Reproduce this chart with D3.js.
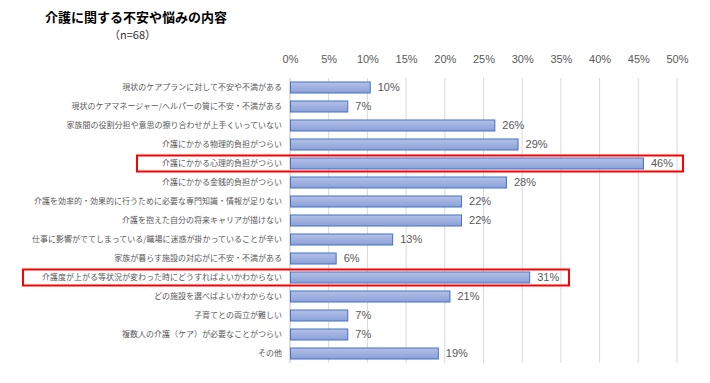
<!DOCTYPE html>
<html>
  <head>
    <meta charset="utf-8" />
    <title>介護に関する不安や悩みの内容</title>
    <script src="https://d3js.org/d3.v7.min.js"></script>
    <style>
      body { margin: 0; background: #fff; }
      svg { font-family: "Noto Sans CJK JP", "Noto Sans", sans-serif; }
    </style>
  </head>
  <body>
    <div id="chart"></div>
    <script>
      // data (n=68)
      var categories = [
        "現状のケアプランに対して不安や不満がある",
        "現状のケアマネージャー/ヘルパーの質に不安・不満がある",
        "家族間の役割分担や意思の擦り合わせが上手くいっていない",
        "介護にかかる物理的負担がつらい",
        "介護にかかる心理的負担がつらい",
        "介護にかかる金銭的負担がつらい",
        "介護を効率的・効果的に行うために必要な専門知識・情報が足りない",
        "介護を抱えた自分の将来キャリアが描けない",
        "仕事に影響がでてしまっている/職場に迷惑が掛かっていることが辛い",
        "家族が暮らす施設の対応がに不安・不満がある",
        "介護度が上がる等状況が変わった時にどうすればよいかわからない",
        "どの施設を選べばよいかわからない",
        "子育てとの両立が難しい",
        "複数人の介護（ケア）が必要なことがつらい",
        "その他"
      ];
      var values = [10.3, 7.4, 26.4, 29.4, 45.6, 27.9, 22.1, 22.1, 13.2, 5.9, 30.9, 20.6, 7.4, 7.4, 19.1];
      var highlighted = [
        "介護にかかる心理的負担がつらい",
        "介護度が上がる等状況が変わった時にどうすればよいかわからない"
      ];
      var xTicks = [0, 5, 10, 15, 20, 25, 30, 35, 40, 45, 50];

      var data = categories.map((c, i) => ({ cat: c, value: values[i] }));

      var W = 710, H = 383;
      var margin = { left: 290, right: 33, top: 78, bottom: 20 };

      var svg = d3.select("#chart").append("svg")
        .attr("width", W)
        .attr("height", H);

      var defs = svg.append("defs");
      var grad = defs.append("linearGradient")
        .attr("id", "barGrad")
        .attr("x1", "0%").attr("x2", "0%")
        .attr("y1", "0%").attr("y2", "100%");
      grad.append("stop").attr("offset", "0%").attr("stop-color", "#b3c1e7");
      grad.append("stop").attr("offset", "100%").attr("stop-color", "#8ca0d8");

      // title
      svg.append("text")
        .attr("x", 45).attr("y", 22)
        .attr("font-size", "13px")
        .attr("font-weight", "bold")
        .attr("fill", "#000")
        .text("介護に関する不安や悩みの内容");
      svg.append("text")
        .attr("x", 109).attr("y", 39)
        .attr("font-size", "11px")
        .attr("fill", "#333")
        .text("（n=68）");

      var x = d3.scaleLinear().domain([0, 50]).range([0, 387]);
      var y = d3.scaleBand().domain(categories).range([0, 285]).paddingInner(0.42).paddingOuter(0.21);

      var g = svg.append("g")
        .attr("transform", "translate(" + margin.left + "," + margin.top + ")");

      // gridlines
      g.append("g")
        .selectAll("line")
        .data(xTicks)
        .join("line")
        .attr("x1", d => x(d)).attr("x2", d => x(d))
        .attr("y1", 0).attr("y2", 285)
        .attr("stroke", d => d === 0 ? "#bfbfbf" : "#d9d9d9")
        .attr("stroke-width", 1);

      // top axis labels
      var xAxis = d3.axisTop(x).tickValues(xTicks).tickFormat(d => d + "%").tickSize(0);
      var gX = g.append("g")
        .attr("transform", "translate(0,-12)")
        .call(xAxis);
      gX.select(".domain").remove();
      gX.selectAll("text")
        .attr("font-size", "11px")
        .attr("fill", "#595959")
        .attr("font-family", "'Liberation Sans', 'DejaVu Sans', sans-serif");

      // category labels
      var yAxis = d3.axisLeft(y).tickSize(0).tickPadding(8);
      var gY = g.append("g").call(yAxis);
      gY.select(".domain").remove();
      gY.selectAll("text")
        .attr("font-size", "8px")
        .attr("fill", "#595959")
        .attr("font-family", "'Noto Sans CJK JP', sans-serif");

      // bars
      g.append("g")
        .selectAll("rect")
        .data(data)
        .join("rect")
        .attr("x", 0.5)
        .attr("y", d => y(d.cat))
        .attr("width", d => x(d.value))
        .attr("height", y.bandwidth())
        .attr("fill", "url(#barGrad)")
        .attr("stroke", "#4472c4")
        .attr("stroke-width", 1);

      // value labels
      g.append("g")
        .selectAll("text")
        .data(data)
        .join("text")
        .attr("x", d => x(d.value) + 8)
        .attr("y", d => y(d.cat) + y.bandwidth() / 2)
        .attr("dy", "0.36em")
        .attr("font-size", "11px")
        .attr("fill", "#595959")
        .attr("font-family", "'Liberation Sans', 'DejaVu Sans', sans-serif")
        .text(d => Math.round(d.value) + "%");

      // red highlight boxes
      var boxes = [
        { cat: highlighted[0], x0: 137, x1: 683 },
        { cat: highlighted[1], x0: 23, x1: 569 }
      ];
      svg.append("g")
        .selectAll("rect")
        .data(boxes)
        .join("rect")
        .attr("x", d => d.x0)
        .attr("y", d => margin.top + y(d.cat) + y.bandwidth() / 2 - 8)
        .attr("width", d => d.x1 - d.x0)
        .attr("height", 16)
        .attr("fill", "none")
        .attr("stroke", "#ff0000")
        .attr("stroke-width", 2);
    </script>
  </body>
</html>
